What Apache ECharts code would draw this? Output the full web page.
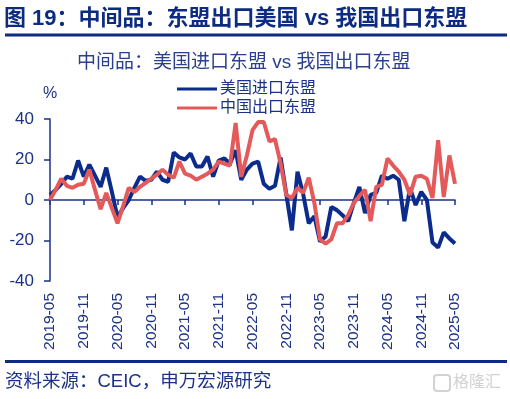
<!DOCTYPE html>
<html>
<head>
<meta charset="utf-8">
<script src="https://cdn.jsdelivr.net/npm/echarts@6/dist/echarts.min.js"></script>
<style>
  html, body { margin: 0; padding: 0; background: #fff; }
</style>
</head>
<body>
<div id="chart" style="width: 510px; height: 399px"></div>
<script>
// 月份：2019-05 ~ 2025-05
const months = []
for (let y = 2019, m = 5; y < 2025 || (y === 2025 && m <= 5); ) {
  months.push(y + '-' + (m < 10 ? '0' + m : m))
  m++
  if (m > 12) { m = 1; y++ }
}

// 美国进口东盟（中间品，%）
const usImportAsean = [
  2.5, 5, 8, 11.5, 10.5, 19.5, 11.5, 17.5, 12, 6.5, 16, 4,
  -8.5, -4, 0, 6, 11.5, 9.5, 10, 14, 10, 9, 23.5, 21,
  20, 23, 16.5, 16.5, 21.5, 11.5, 19.5, 20.5, 18, 24.5, 10, 15,
  18, 19, 8, 5.5, 7, 21, 3, -15, 14, 3, -11.5, -8,
  -20.5, -18, -3.5, -5, -7.5, -10.5, -1.5, 6.5, -6.5, 2.5, 3.5, 12,
  10.5, 12, 10, -10.5, 6, -2.5, 4, 0, -21, -23.5, -16, -19,
  -21.5,
]

// 中国出口东盟（中间品，%）
const cnExportAsean = [
  0, 5, 10.5, 7, 6, 7.5, 8, 15, 5, -4.5, 3.5, -4,
  -11.5, -3, 6, 4, 6.5, 8.5, 10.5, 12.5, 15, 12.5, 11, 19,
  13, 12, 10, 11.5, 13, 15, 19, 18, 17, 38, 11.5, 22,
  34.5, 38.5, 38.5, 29, 30, 18, 2.5, 1, 6, 3.5, 11, -1.5,
  -19.5, -21.5, -19.5, -11.5, -11.5, -7.5, -1.5, 2, 5, -10.5, 6.5, 7.5,
  20.5, 17, 14, 10, 2.5, 11.5, 12, 10.5, 1, 29.5, 1.5, 22,
  8,
]

const seriesNames = ['美国进口东盟', '中国出口东盟']

const navy = '#1b3286'
const font = '"Liberation Sans", "Noto Sans CJK SC", sans-serif'

const myChart = echarts.init(document.getElementById('chart'))

const option = {
  backgroundColor: '#fff',
  textStyle: { fontFamily: font },
  title: [
    {
      text: '图 19：中间品：东盟出口美国 vs 我国出口东盟',
      left: 4,
      top: 8,
      padding: 0,
      textStyle: { fontSize: 22, fontWeight: 'bold', color: '#0d2b80', fontFamily: font },
    },
    {
      text: '中间品：美国进口东盟 vs 我国出口东盟',
      left: 77,
      top: 53,
      padding: 0,
      textStyle: { fontSize: 19, fontWeight: 'normal', color: '#2a3f8e', fontFamily: font },
    },
  ],
  legend: {
    orient: 'vertical',
    left: 177,
    top: 81,
    padding: 0,
    itemGap: 3,
    itemWidth: 40,
    itemHeight: 3,
    icon: 'rect',
    data: seriesNames,
    textStyle: { fontSize: 16, color: navy, padding: [0, 0, 0, -2] },
  },
  grid: {
    left: 50,
    right: 55,
    top: 119,
    bottom: 118,
    containLabel: false,
    outerBoundsMode: 'none',
  },
  xAxis: {
    type: 'category',
    data: months,
    boundaryGap: false,
    axisLine: { onZero: true, lineStyle: { color: navy, width: 1.5 } },
    axisTick: { interval: 5, length: 5, lineStyle: { color: navy, width: 1.5 } },
    axisLabel: {
      interval: 5,
      rotate: 90,
      margin: 12,
      fontSize: 15.5,
      color: navy,
    },
    splitLine: { show: false },
  },
  yAxis: {
    type: 'value',
    min: -40,
    max: 40,
    interval: 20,
    name: '%',
    nameGap: 17,
    nameTextStyle: { fontSize: 16, color: navy, align: 'center' },
    axisLine: { show: true, lineStyle: { color: navy, width: 1.5 } },
    axisTick: { show: true, length: 6, lineStyle: { color: navy, width: 1.5 } },
    axisLabel: { fontSize: 17, color: navy, margin: 16 },
    splitLine: { show: false },
  },
  series: [
    {
      name: seriesNames[0],
      type: 'line',
      data: usImportAsean,
      symbol: 'none',
      lineStyle: { width: 4, color: '#0b2c8c' },
      itemStyle: { color: '#0b2c8c' },
    },
    {
      name: seriesNames[1],
      type: 'line',
      data: cnExportAsean,
      symbol: 'none',
      lineStyle: { width: 4, color: '#e45a5b' },
      itemStyle: { color: '#e45a5b' },
    },
  ],
  graphic: [
    {
      type: 'line',
      shape: { x1: 5, y1: 35, x2: 507, y2: 35 },
      style: { stroke: '#0d2b80', lineWidth: 3 },
    },
    {
      type: 'line',
      shape: { x1: 5, y1: 361.5, x2: 507, y2: 361.5 },
      style: { stroke: '#0d2b80', lineWidth: 3 },
    },
    {
      type: 'text',
      left: 5,
      top: 373,
      style: { text: '资料来源：CEIC，申万宏源研究', fontSize: 18.5, fill: '#1b3286', fontFamily: font },
    },
    {
      type: 'rect',
      shape: { x: 434, y: 375, width: 16, height: 16, r: 3 },
      style: { fill: 'none', stroke: '#d2d2d2', lineWidth: 2 },
    },
    {
      type: 'text',
      left: 453,
      top: 375,
      style: { text: '格隆汇', fontSize: 16, fill: '#d2d2d2', fontFamily: font },
    },
  ],
}

option && myChart.setOption(option)
</script>
</body>
</html>
